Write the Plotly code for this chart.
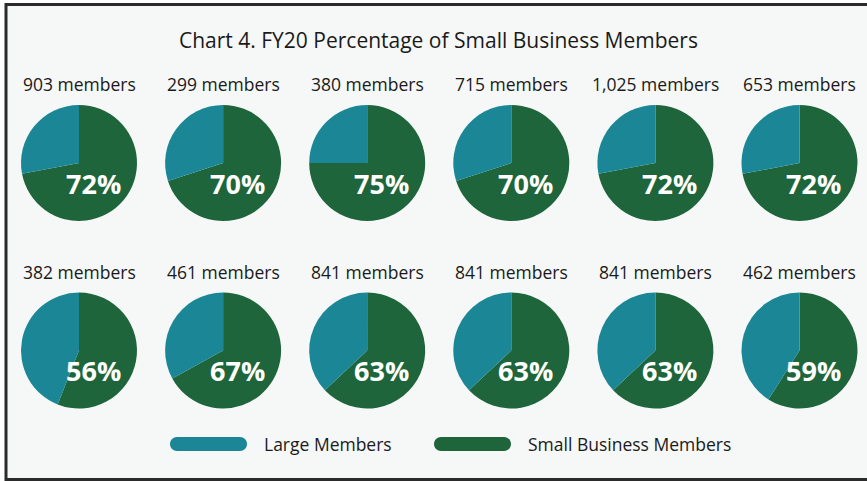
import plotly.graph_objects as go

# ---- data ----
members = [903, 299, 380, 715, 1025, 653, 382, 461, 841, 841, 841, 462]
small_pct = [72, 70, 75, 70, 72, 72, 56, 67, 63, 63, 63, 59]
large_pct = [100 - v for v in small_pct]
series_names = ["Large Members", "Small Business Members"]
title_text = "Chart 4. FY20 Percentage of Small Business Members"

# ---- styles ----
W, H = 867, 481
TEAL = "#1b8796"
GREEN = "#1f653b"
BG = "#f6f8f7"
FONT = "Open Sans"
TXT = "#1a1a1a"

col_x = [79 + 144.1 * i for i in range(6)]
row_y = [163, 350.5]
R = 58

fig = go.Figure()
# invisible trace to activate pixel-space axes
fig.add_trace(go.Scatter(x=[], y=[], showlegend=False, hoverinfo="skip"))

annotations = []
for i, (m, s, l) in enumerate(zip(members, small_pct, large_pct)):
    cx = col_x[i % 6]
    cy = row_y[i // 6]
    fig.add_trace(go.Pie(
        values=[s, l],
        labels=[series_names[1], series_names[0]],
        marker=dict(colors=[GREEN, TEAL], line=dict(width=0)),
        sort=False, direction="clockwise", rotation=0,
        textinfo="none", showlegend=False,
        domain=dict(x=[(cx - R) / W, (cx + R) / W],
                    y=[1 - (cy + R) / H, 1 - (cy - R) / H]),
    ))
    annotations.append(dict(x=cx, y=cy - 79, xref="x", yref="y",
                            text=f"{m:,} members", showarrow=False,
                            font=dict(family=FONT, size=17.5, color=TXT),
                            xanchor="center", yanchor="middle"))
    annotations.append(dict(x=cx + 14, y=cy + 20, xref="x", yref="y",
                            text=f"<b>{s}%</b>", showarrow=False,
                            font=dict(family=FONT, size=27, color="white"),
                            xanchor="center", yanchor="middle"))

annotations.append(dict(x=438, y=40, xref="x", yref="y", text=title_text,
                        showarrow=False, font=dict(family=FONT, size=21, color=TXT),
                        xanchor="center", yanchor="middle"))

# legend pills (rounded ends via cubic Bezier quarter circles)
def pill(x0, x1, y0, y1, color):
    r = (y1 - y0) / 2
    k = 0.5523 * r
    ym = (y0 + y1) / 2
    a, b = x0 + r, x1 - r
    path = (f"M {a},{y0} L {b},{y0} "
            f"C {b + k},{y0} {x1},{ym - k} {x1},{ym} "
            f"C {x1},{ym + k} {b + k},{y1} {b},{y1} "
            f"L {a},{y1} "
            f"C {a - k},{y1} {x0},{ym + k} {x0},{ym} "
            f"C {x0},{ym - k} {a - k},{y0} {a},{y0} Z")
    return dict(type="path", xref="x", yref="y", layer="above",
                path=path, fillcolor=color, line=dict(width=0))

shapes = [
    dict(type="rect", xref="x", yref="y", x0=6, x1=880, y0=4.5, y1=479.5,
         fillcolor=BG, line=dict(color="#2b2b2b", width=3), layer="below"),
    pill(170, 247, 437, 451, TEAL),
    pill(434, 511, 437, 451, GREEN),
]
annotations.append(dict(x=262, y=444, xref="x", yref="y", text=series_names[0],
                        showarrow=False, font=dict(family=FONT, size=17.5, color=TXT),
                        xanchor="left", yanchor="middle"))
annotations.append(dict(x=526, y=444, xref="x", yref="y", text=series_names[1],
                        showarrow=False, font=dict(family=FONT, size=17.5, color=TXT),
                        xanchor="left", yanchor="middle"))

fig.update_layout(
    width=W, height=H,
    margin=dict(l=0, r=0, t=0, b=0),
    paper_bgcolor="white", plot_bgcolor="rgba(0,0,0,0)",
    xaxis=dict(range=[0, W], visible=False, fixedrange=True, domain=[0, 1]),
    yaxis=dict(range=[H, 0], visible=False, fixedrange=True, domain=[0, 1]),
    shapes=shapes, annotations=annotations,
    showlegend=False,
)

fig.write_html("out.html", config={"displayModeBar": False},
               post_script="document.body.style.margin='0';document.body.style.overflow='hidden';")
